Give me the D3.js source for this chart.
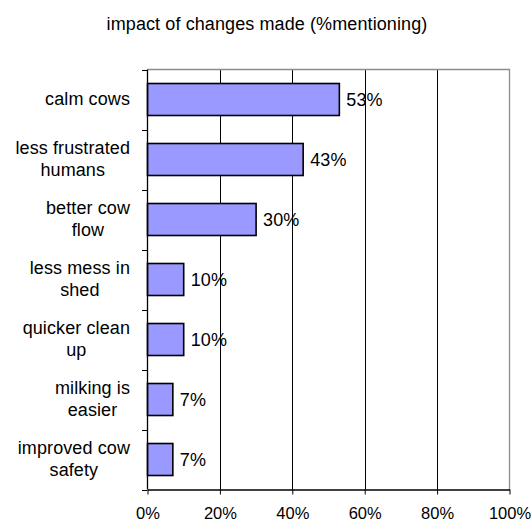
<!DOCTYPE html>
<html>
<head>
<meta charset="utf-8">
<script src="https://cdn.jsdelivr.net/npm/d3@7"></script>
<style>
  html, body { margin: 0; padding: 0; background: #fff; }
  svg { display: block; }
  text { font-family: "Liberation Sans", Arial, sans-serif; fill: #000; }
</style>
</head>
<body>
<svg id="chart" width="531" height="523"></svg>
<script>
// Survey answers: share of respondents mentioning each impact
const categories = [
  ["calm cows"],
  ["less frustrated", "humans"],
  ["better cow", "flow"],
  ["less mess in", "shed"],
  ["quicker clean", "up"],
  ["milking is", "easier"],
  ["improved cow", "safety"]
];
const values = [53, 43, 30, 10, 10, 7, 7];
const xTicks = [0, 20, 40, 60, 80, 100];
const title = "impact of changes made (%mentioning)";

const svg = d3.select("#chart");
const plot = { left: 147.5, right: 509.5, top: 69.5, bottom: 489.5 };
const labelRight = 130;
const fontSize = 18;
const spacing = "0.1px";

const keys = categories.map(c => c.join(" "));
const x = d3.scaleLinear().domain([0, 100]).range([plot.left, plot.right]);
const y = d3.scaleBand().domain(keys).range([plot.top, plot.bottom])
  .paddingInner(0.4667).paddingOuter(0.2333);

// Title
svg.append("text")
  .attr("x", 267).attr("y", 29.5)
  .attr("text-anchor", "middle")
  .style("font-size", fontSize + "px")
  .style("letter-spacing", spacing)
  .text(title);

// Vertical gridlines
svg.append("g").selectAll("line")
  .data(xTicks.filter(t => t > 0 && t < 100))
  .join("line")
  .attr("x1", d => Math.round(x(d)) + 0.5).attr("x2", d => Math.round(x(d)) + 0.5)
  .attr("y1", plot.top).attr("y2", plot.bottom)
  .attr("stroke", "#000").attr("stroke-width", 1);

// Plot frame: grey top and right edges
svg.append("path")
  .attr("d", `M${plot.left},${plot.top}H${plot.right}V${plot.bottom}`)
  .attr("fill", "none").attr("stroke", "#8c8c8c").attr("stroke-width", 1.3);

// Bars
svg.append("g").selectAll("rect")
  .data(values)
  .join("rect")
  .attr("x", x(0))
  .attr("y", (d, i) => y(keys[i]))
  .attr("width", d => x(d) - x(0))
  .attr("height", y.bandwidth())
  .attr("fill", "#9999ff")
  .attr("stroke", "#000")
  .attr("stroke-width", 1.6);

// Value labels
svg.append("g").selectAll("text")
  .data(values)
  .join("text")
  .attr("x", d => x(d) + 7)
  .attr("y", (d, i) => y(keys[i]) + y.bandwidth() / 2 + 6.5)
  .style("font-size", fontSize + "px")
  .style("letter-spacing", spacing)
  .text(d => d + "%");

// X axis
const xAxis = svg.append("g")
  .attr("transform", `translate(0,${plot.bottom})`)
  .call(d3.axisBottom(x).tickValues(xTicks).tickSize(5).tickSizeOuter(0)
    .tickFormat(d => d + "%"));
xAxis.select(".domain").attr("stroke", "#000").attr("stroke-width", 1.3);
xAxis.selectAll(".tick line").attr("stroke", "#000");
xAxis.selectAll(".tick text")
  .attr("y", 29.5)
  .attr("dy", null)
  .style("font-family", "'Liberation Sans', Arial, sans-serif")
  .style("font-size", "16.5px")
  .attr("fill", "#000");

// Y axis line with ticks at category boundaries
svg.append("line")
  .attr("x1", plot.left).attr("x2", plot.left)
  .attr("y1", plot.top).attr("y2", plot.bottom)
  .attr("stroke", "#000").attr("stroke-width", 1.3);
const step = y.step();
const boundaries = d3.range(keys.length + 1).map(i => plot.top + i * step);
svg.append("g").selectAll("line")
  .data(boundaries)
  .join("line")
  .attr("x1", plot.left - 5.5).attr("x2", plot.left)
  .attr("y1", d => Math.round(d) + 0.5).attr("y2", d => Math.round(d) + 0.5)
  .attr("stroke", "#000").attr("stroke-width", 1);

// Category labels: centred lines, block right-aligned to the axis gutter
const lineH = 22.5;
categories.forEach((lines, i) => {
  const cy = y(keys[i]) + y.bandwidth() / 2;
  const g = svg.append("g");
  const texts = lines.map((ln, j) => g.append("text")
    .attr("text-anchor", "middle")
    .attr("y", cy + (j - (lines.length - 1) / 2) * lineH + 5.5)
    .style("font-size", fontSize + "px")
    .style("letter-spacing", spacing)
    .text(ln));
  const w = d3.max(texts, t => t.node().getComputedTextLength());
  texts.forEach(t => t.attr("x", labelRight - w / 2));
});
</script>
</body>
</html>
